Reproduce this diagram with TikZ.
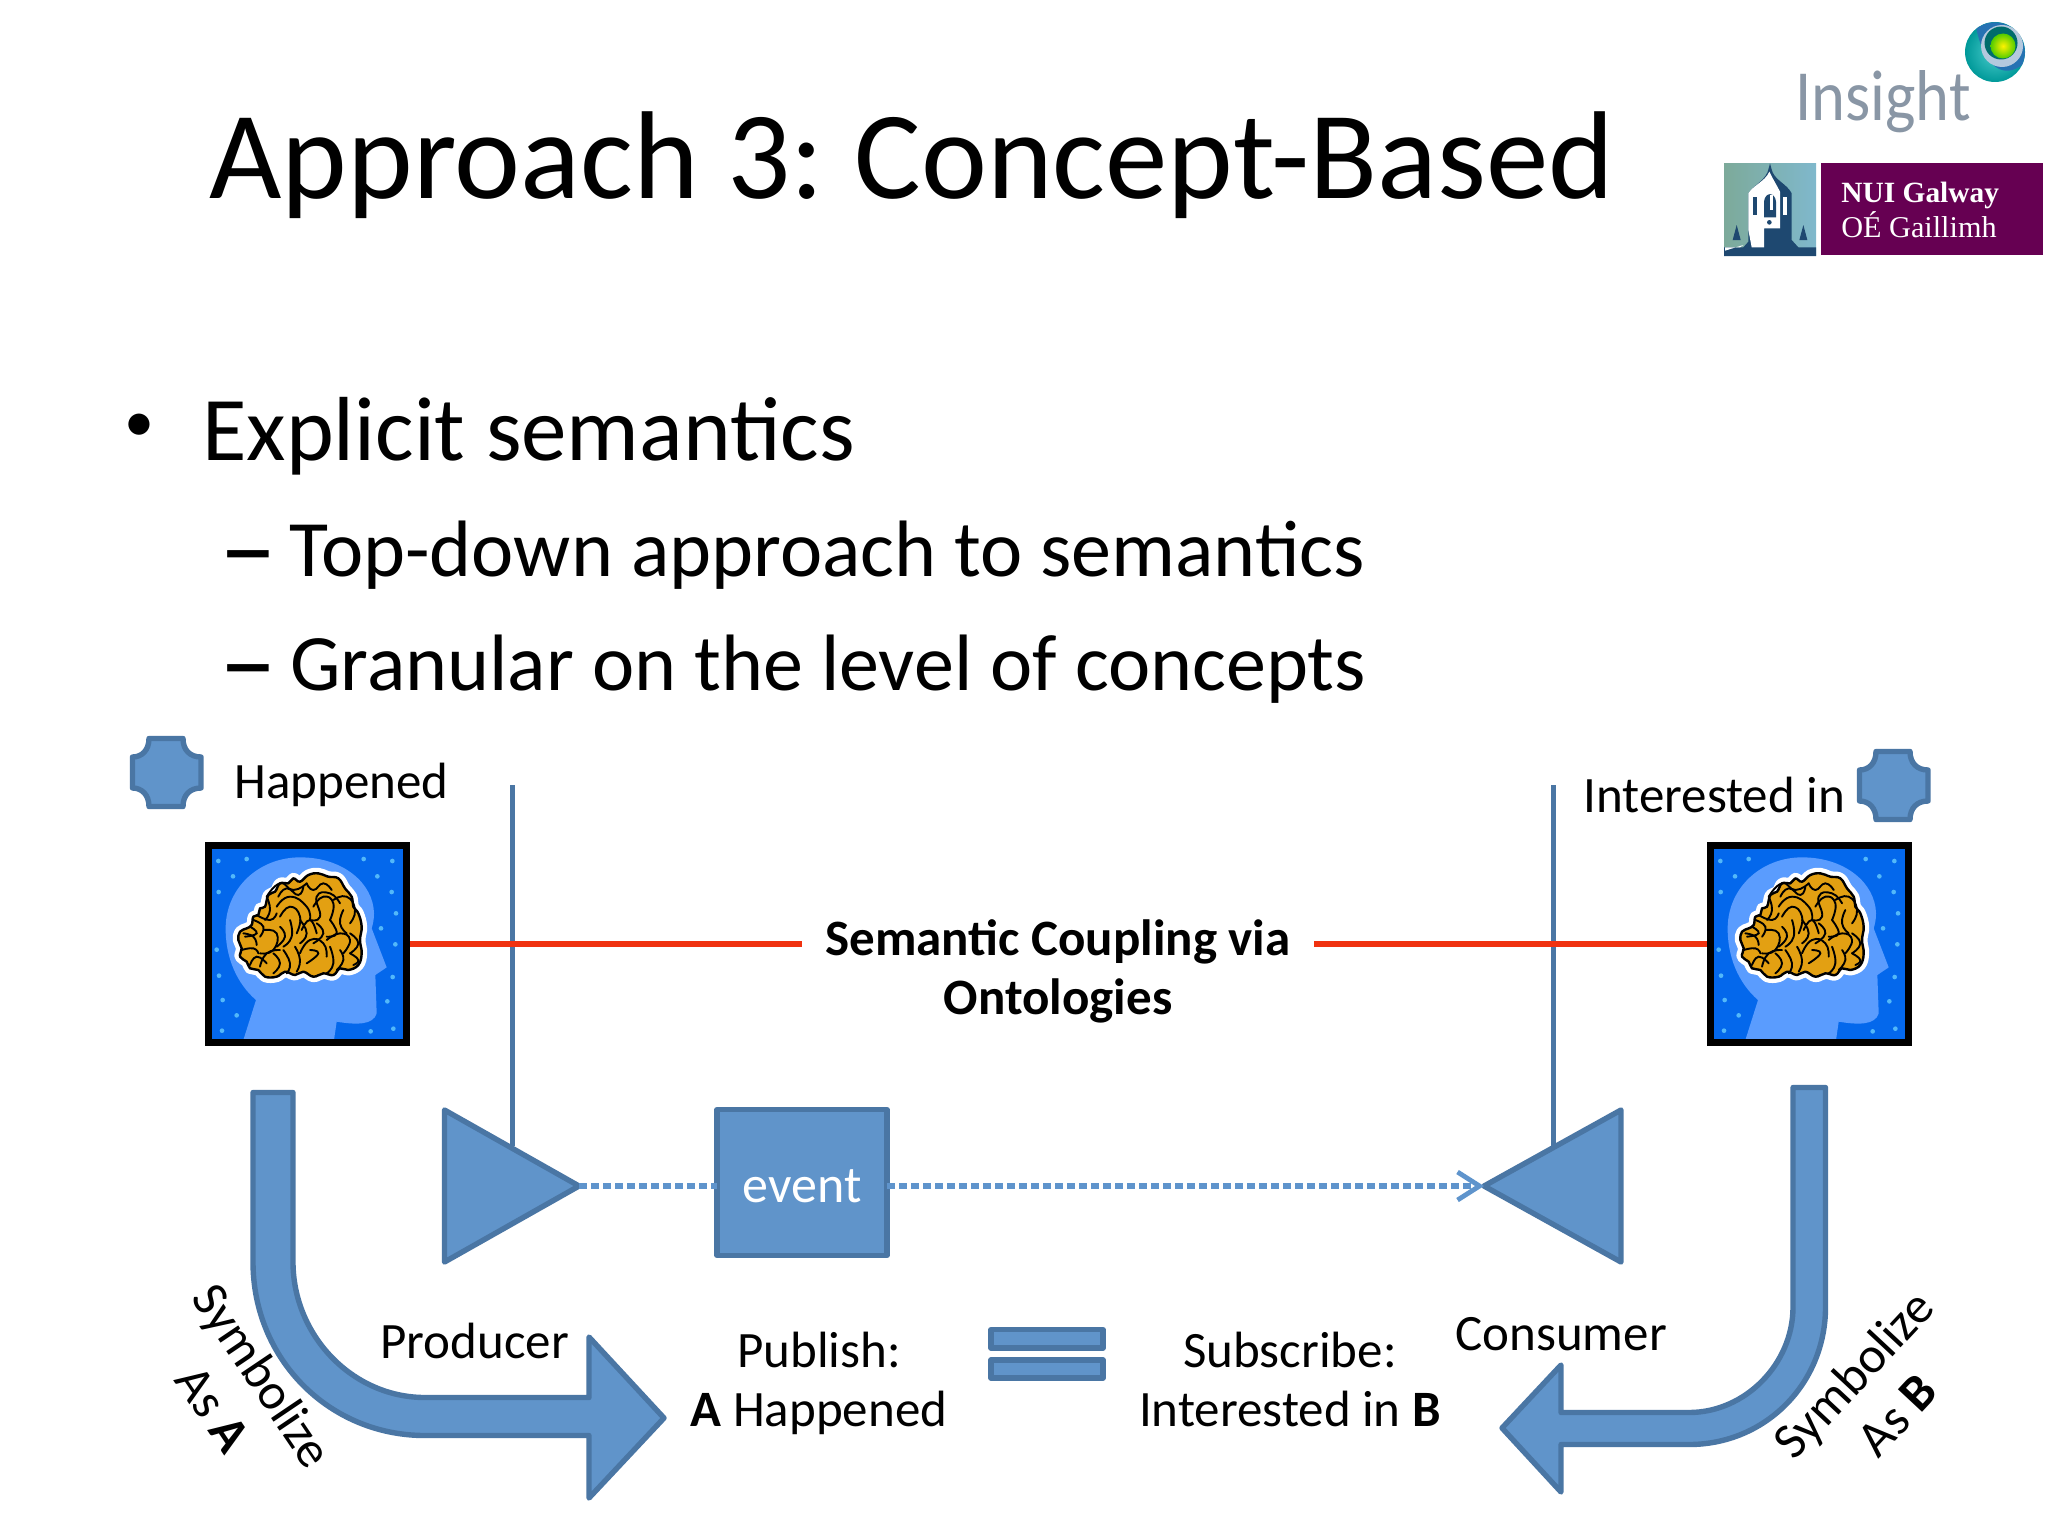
\documentclass[tikz,border=0pt]{standalone}
\usepackage{graphicx}
\usepackage{fontspec}
\setmainfont{Carlito}
\newfontfamily\logoserif{Liberation Serif}
\usetikzlibrary{arrows.meta}
\definecolor{shapefill}{HTML}{6094CA}
\definecolor{shapeline}{HTML}{4A76A4}
\definecolor{dotblue}{HTML}{5F94CC}
\definecolor{redline}{HTML}{F03210}
\definecolor{skyblue}{HTML}{0468EC}
\definecolor{headblue}{HTML}{5A9CFE}
\definecolor{speck}{HTML}{52B8FA}
\definecolor{brainorange}{HTML}{E3A012}
\definecolor{insightgrey}{HTML}{8996A5}
\definecolor{nuipurple}{HTML}{660052}
\definecolor{towernavy}{HTML}{1E4870}
\definecolor{crestleft}{HTML}{7DAA9A}
\definecolor{crestright}{HTML}{7FB8CC}
\tikzset{
  solidshape/.style={fill=shapefill,draw=shapeline,line width=2.7pt,line join=round},
  stem/.style={draw=shapeline,line width=2.5pt},
  redlink/.style={draw=redline,line width=3pt},
  dotlink/.style={draw=dotblue,line width=2.7pt,dash pattern=on 4pt off 2pt},
  titletext/.style={inner sep=0pt,anchor=base west,font=\fontsize{62.5}{62}\selectfont},
  bigtext/.style={inner sep=0pt,anchor=base west,font=\fontsize{45.5}{45.5}\selectfont},
  subtext/.style={inner sep=0pt,anchor=base west,font=\fontsize{40}{40}\selectfont},
  dashtext/.style={inner sep=0pt,anchor=base west,font=\fontsize{58}{58}\selectfont},
  labeltext/.style={inner sep=0pt,font=\fontsize{25.5}{29.8}\selectfont,align=center},
  brainbox/.style={draw=black,line width=3.5pt,minimum width=99pt,minimum height=98.5pt,inner sep=0pt,outer sep=0pt,fill=skyblue},
  gyrus/.style={draw=black,line width=0.95pt,line cap=round},
}
\newcommand{\gyrusline}[1]{\draw[gyrus] plot[smooth,tension=0.9] coordinates {#1};}
\newcommand{\brainoutline}{plot[smooth cycle,tension=0.7] coordinates {(390,635)(410,625)(425,615)(430,590)(445,585)(450,565)(465,560)(475,525)(495,515)(510,490)(535,490)(550,475)(570,485)(595,465)(625,460)(655,470)(685,475)(705,505)(725,530)(730,560)(745,580)(755,620)(750,660)(755,700)(745,735)(715,750)(690,745)(670,765)(640,760)(610,770)(580,755)(555,765)(525,755)(500,770)(465,770)(445,750)(420,745)(410,725)(390,710)(395,685)(385,660)}}
% brain drawn in a 1/6 pt grid, origin given in picture units
\newcommand{\headpicture}[2]{%
\begin{scope}[shift={(#1,#2)},x=0.16667pt,y=-0.16667pt]
  \fill[headblue] (400,960) -- (438,840) .. controls (380,790) and (345,710) .. (347,620)
     .. controls (350,500) and (450,412) .. (570,412) .. controls (700,412) and (790,490) .. (792,580)
     .. controls (792,600) and (788,615) .. (785,625) -- (830,742) -- (796,765) -- (800,880)
     .. controls (790,915) and (740,915) .. (680,905) -- (672,960) -- cycle;
  \foreach \dx/\dy in {325/423,410/417,369/469,326/516,320/689,327/767,338/840,380/886,336/932,761/417,847/423,802/469,845/516,858/580,813/625,856/673,848/771,832/844,782/934,850/926}
    \fill[speck] (\dx,\dy) circle (7);
  \draw[fill=white,draw=white,line width=5.5pt,line join=round] \brainoutline;
  \draw[fill=brainorange,draw=black,line width=1.2pt,line join=round] \brainoutline;
  \gyrusline{(470,530)(510,490)(550,510)(590,490)}
  \gyrusline{(590,490)(610,510)(640,490)(665,510)}
  \gyrusline{(505,530)(530,505)(565,525)(580,500)}
  \gyrusline{(470,530)(480,570)(465,600)}
  \gyrusline{(430,600)(460,620)(450,650)}
  \gyrusline{(440,585)(480,600)(500,580)}
  \gyrusline{(400,640)(430,650)(440,675)}
  \gyrusline{(395,690)(430,685)(445,700)}
  \gyrusline{(420,735)(440,710)(470,730)}
  \gyrusline{(460,630)(500,640)(490,690)(450,700)}
  \gyrusline{(500,560)(540,530)(590,560)(600,600)}
  \gyrusline{(510,590)(540,560)(570,590)(560,640)}
  \gyrusline{(540,600)(545,650)(520,680)}
  \gyrusline{(510,620)(525,650)(500,680)}
  \gyrusline{(570,600)(590,640)(570,670)}
  \gyrusline{(600,600)(630,590)(620,530)(660,520)(690,550)}
  \gyrusline{(610,560)(640,530)(670,550)(660,600)}
  \gyrusline{(670,540)(710,530)(735,570)(720,610)}
  \gyrusline{(700,570)(690,610)(710,640)}
  \gyrusline{(660,600)(680,640)(650,650)}
  \gyrusline{(620,610)(640,640)(610,670)}
  \gyrusline{(575,630)(600,600)(620,640)}
  \gyrusline{(490,700)(510,730)(490,760)}
  \gyrusline{(520,690)(540,730)(530,760)}
  \gyrusline{(555,680)(570,720)(560,755)}
  \gyrusline{(570,700)(600,660)(640,670)(650,710)}
  \gyrusline{(600,690)(625,700)(590,730)}
  \gyrusline{(650,660)(690,640)(720,660)(700,700)}
  \gyrusline{(660,680)(670,730)(650,760)}
  \gyrusline{(690,690)(700,720)(680,750)}
  \gyrusline{(720,640)(745,670)(720,700)}
  \gyrusline{(720,700)(745,720)(730,735)}
  \gyrusline{(450,740)(470,700)(510,690)}
  \gyrusline{(420,620)(440,640)(405,650)}
\end{scope}}
\newcommand{\plaqueshape}[1]{%
\begin{scope}[shift={(#1)}]
  \draw[solidshape] (19,2.5) -- (53,2.5) .. controls (53,14) and (60,21) .. (71,21) -- (71,52)
     .. controls (60,52) and (53,59) .. (53,70.5) -- (19,70.5) .. controls (19,59) and (12,52) .. (2.5,52)
     -- (2.5,21) .. controls (12,21) and (19,14) .. (19,2.5) -- cycle;
\end{scope}}
\begin{document}
\begin{tikzpicture}[x=0.5pt,y=-0.5pt]
\useasboundingbox[fill=white] (0,0) rectangle (2048,1536);

% slide text
\node[titletext] (title) at (209,198) {Approach 3:\hspace{-3.5pt} Concept-Based};
\node[inner sep=0pt,anchor=center,font=\fontsize{30}{30}\selectfont] (bullet) at (139,428) {•};
\node[bigtext] (item) at (202,460) {Explicit semantics};
\node[dashtext] (dasha) at (219,586) {–};
\node[subtext] (suba) at (289,576) {Top-down approach to semantics};
\node[dashtext] (dashb) at (219,700) {–};
\node[subtext] (subb) at (290,690) {Granular on the level of concepts};

% Insight logo
\shade[inner color=teal!55!cyan!70,outer color=teal!80!cyan] (1995,52) circle (30);
\fill[teal!70!blue!85] (2022,65) arc (25:-128:30) .. controls (1985,70) and (2005,78) .. cycle;
\fill[cyan!40!blue!15!white!80!teal] (2002,46) circle (21);
\fill[teal!85!black] (2001,43) circle (16.5);
\shade[inner color=yellow!90!orange,outer color=green!60!yellow!80!black] (2003,46) circle (12.5);
\node[inner sep=0pt,anchor=base west,text=insightgrey,font=\fontsize{36}{36}\selectfont] (insight) at (1795,120) {\scalebox{0.895}[1]{Insight}};

% NUI Galway crest
\shade[left color=crestleft,right color=crestright] (1724,163) rectangle (1816,255);
\begin{scope}[shift={(1720,160)},x=0.16667pt,y=-0.16667pt]
  \fill[towernavy] (12,262) -- (70,262) -- (85,245) -- (85,100) .. controls (100,75) and (140,60) .. (146,25) -- (150,10) -- (154,25)
     .. controls (160,60) and (200,70) .. (215,100) -- (215,240) -- (235,262) -- (288,262) -- (288,288) -- (12,288) -- cycle;
  \fill[towernavy] (50,195) -- (62,240) -- (38,240) -- cycle;
  \fill[towernavy] (250,195) -- (262,240) -- (238,240) -- cycle;
  \fill[white] (85,100) .. controls (100,75) and (135,65) .. (148,35) .. controls (160,60) and (170,75) .. (180,95)
     -- (180,205) -- (132,205) -- (132,262) -- (95,262) -- (85,210) -- cycle;
  \fill[towernavy] (132,125) .. controls (135,95) and (165,95) .. (168,125) -- (168,172) -- (132,172) -- cycle;
  \fill[white] (150,105) -- (158,105) -- (158,150) -- (150,150) -- cycle;
  \fill[towernavy] (100,110) -- (112,110) -- (112,165) -- (100,165) -- cycle;
  \fill[white] (190,110) -- (200,110) -- (200,165) -- (190,165) -- cycle;
  \fill[white] (132,176) -- (172,176) -- (172,200) -- (132,200) -- cycle;
  \fill[towernavy] (148,187) circle (7);
  \fill[white] (15,262) -- (60,262) -- (70,255) -- (15,272) -- cycle;
\end{scope}
\fill[nuipurple] (1821,163) rectangle (2043,255);
\node[inner sep=0pt,anchor=base west,text=white,font=\logoserif\bfseries\fontsize{14.7}{15}\selectfont] (nui) at (1841,202) {NUI Galway};
\node[inner sep=0pt,anchor=base west,text=white,font=\logoserif\fontsize{15.1}{15}\selectfont] (oe) at (1841,237) {OÉ Gaillimh};

% vertical stems behind everything
\coordinate (stemltop) at (512,785);
\coordinate (stemlbot) at (512,1146);
\coordinate (stemrtop) at (1553,785);
\coordinate (stemrbot) at (1553,1146);
\draw[stem] (stemltop) -- (stemlbot);
\draw[stem] (stemrtop) -- (stemrbot);

% plaques
\plaqueshape{130,736}
\plaqueshape{1857,749}
\node[labeltext,anchor=base west] (happened) at (234,798) {Happened};
\node[labeltext,anchor=base west] (interested) at (1583,812) {Interested in};

% semantic coupling
\node[labeltext,font=\bfseries\fontsize{25.5}{29.8}\selectfont] (coupling) at (1058,973) {Semantic Coupling via\strut\\Ontologies\strut};
\coordinate (redl) at (802,944);
\coordinate (redr) at (1314,944);

% minds
\node[brainbox] (lbox) at (307.5,944) {};
\node[brainbox] (rbox) at (1809.5,944) {};
\draw[redlink] (lbox.east) -- (redl);
\draw[redlink] (redr) -- (rbox.west);
\headpicture{110}{720}
\headpicture{1612}{720}
\draw[draw=black,line width=3.5pt] (lbox.north west) rectangle (lbox.south east);
\draw[draw=black,line width=3.5pt] (rbox.north west) rectangle (rbox.south east);

% triangles, event, dotted connector
\draw[solidshape] (444.5,1110) -- (579,1186) coordinate (ltip) -- (444.5,1262) -- cycle;
\draw[solidshape] (1621,1110) -- (1484,1186) coordinate (rtip) -- (1621,1262) -- cycle;
\node[solidshape,outer sep=0pt,minimum width=85pt,minimum height=73pt,inner sep=0pt,text=white,font=\fontsize{26}{29.8}\selectfont] (event) at (802,1182.5) {\raisebox{-10.2pt}[0pt][0pt]{event}};
\draw[dotlink] (ltip) -- (ltip -| event.west);
\draw[dotlink,-{Straight Barb[length=11pt,width=14pt,line width=2.4pt]}] (ltip -| event.east) -- (rtip);

% bent arrows
\draw[solidshape] (253,1092.5) -- (293,1092.5) -- (293,1262) .. controls (293,1335) and (352,1397.5) .. (425,1397.5) -- (589,1397.5) -- (589,1337) -- (664,1418) -- (589,1498) -- (589,1435.5) -- (425,1435.5) .. controls (329,1435.5) and (253,1359) .. (253,1262) -- cycle;
\draw[solidshape] (1793,1087.5) -- (1825.5,1087.5) -- (1825.5,1307) .. controls (1825.5,1384) and (1765,1444.5) .. (1689,1444.5) -- (1561,1444.5) -- (1561,1492) -- (1502,1428) -- (1561,1365) -- (1561,1412.5) -- (1689,1412.5) .. controls (1745,1412.5) and (1793,1364) .. (1793,1307) -- cycle;

% labels
\node[labeltext,anchor=base west] (producer) at (380,1358) {Producer};
\node[labeltext,anchor=base west] (consumer) at (1455,1350) {Consumer};
\node[labeltext] (publish) at (819,1385) {Publish:\strut\\\textbf{A} Happened\strut};
\node[labeltext] (subscribe) at (1290,1385) {Subscribe:\strut\\Interested in \textbf{B}\strut};
\node[labeltext,rotate=-56] (symbola) at (234,1395) {Symbolize\strut\\As \textbf{A}\strut};
\node[labeltext,rotate=47] (symbolb) at (1879,1398) {Symbolize\strut\\As \textbf{B}\strut};

% equals sign
\draw[solidshape] (991,1329.5) rectangle (1103,1348);
\draw[solidshape] (991,1360) rectangle (1103,1378);
\end{tikzpicture}
\end{document}
